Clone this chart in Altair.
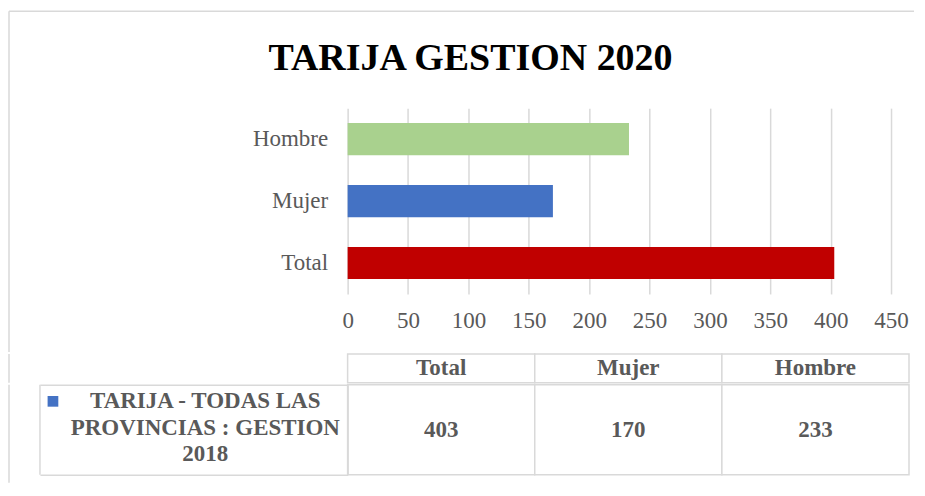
import altair as alt
import pandas as pd

# ---- data ----
TITLE = "TARIJA GESTION 2020"
CATEGORIES = ["Total", "Mujer", "Hombre"]
VALUES = [403, 170, 233]
BAR_COLORS = ["#C00000", "#4472C4", "#A9D18E"]
BAR_ORDER = ["Hombre", "Mujer", "Total"]
X_TICKS = [0, 50, 100, 150, 200, 250, 300, 350, 400, 450]
ROW_LABEL_LINES = ["TARIJA - TODAS LAS", "PROVINCIAS : GESTION", "2018"]
SERIES_COLOR = "#4472C4"

ROW_LABEL = "\n".join(ROW_LABEL_LINES)

df = pd.DataFrame({
    "cat": CATEGORIES,
    "value": VALUES,
    "row": [ROW_LABEL] * len(CATEGORIES),
    "hdr": ["header"] * len(CATEGORIES),
})
one = pd.DataFrame({"k": [0]})

FONT = "Liberation Serif"
GRAY = "#595959"
LINE = "#D9D9D9"
FRAME_X = -339  # chart-area frame, relative to the plot's left edge


def frame_rule():
    return alt.Chart(one).mark_rule(color=LINE, strokeWidth=1.5)


# ---- bar chart ----
bars = alt.Chart(df).mark_bar().encode(
    x=alt.X("value:Q",
            scale=alt.Scale(domain=[0, 450], nice=False, zero=True),
            axis=alt.Axis(values=X_TICKS, title=None, grid=True, gridColor=LINE, gridWidth=1.5,
                          ticks=False, domain=False, labelFont=FONT, labelFontSize=23,
                          labelColor=GRAY, labelPadding=16, labelFlush=False, minExtent=58)),
    y=alt.Y("cat:N", sort=BAR_ORDER,
            scale=alt.Scale(paddingInner=0.48, paddingOuter=0.24),
            axis=alt.Axis(title=None, ticks=False, domain=False, grid=False, labelFont=FONT,
                          labelFontSize=23, labelColor=GRAY, labelPadding=20)),
    color=alt.Color("cat:N", scale=alt.Scale(domain=CATEGORIES, range=BAR_COLORS), legend=None),
)
frame_top = frame_rule().encode(x=alt.value(FRAME_X), x2=alt.value(567), y=alt.value(-97))
frame_left_a = frame_rule().encode(x=alt.value(FRAME_X), y=alt.value(-97), y2=alt.value(244))
top_chart = alt.layer(bars, frame_top, frame_left_a).properties(width=544, height=186)

# ---- data table: header row ----
hdr_base = alt.Chart(df).encode(
    x=alt.X("cat:N", sort=CATEGORIES, scale=alt.Scale(paddingInner=0, paddingOuter=0), axis=None),
    y=alt.Y("hdr:N", scale=alt.Scale(paddingInner=0, paddingOuter=0), axis=None),
)
frame_left_c = frame_rule().encode(x=alt.value(FRAME_X), y=alt.value(0), y2=alt.value(29))
header = alt.layer(
    hdr_base.mark_rect(fill="white", stroke=LINE, strokeWidth=1.5),
    hdr_base.mark_text(font=FONT, fontSize=23, fontWeight="bold", color=GRAY).encode(text="cat:N"),
    frame_left_c,
).properties(width=562, height=29)

# ---- data table: value row ----
body_base = alt.Chart(df).encode(
    x=alt.X("cat:N", sort=CATEGORIES, scale=alt.Scale(paddingInner=0, paddingOuter=0), axis=None),
    y=alt.Y("row:N", scale=alt.Scale(paddingInner=0, paddingOuter=0),
            axis=alt.Axis(title=None, domain=True, domainColor=LINE, domainWidth=1.5,
                          ticks=True, tickBand="extent", tickSize=308, tickColor=LINE, tickWidth=1.5,
                          labelFont=FONT, labelFontSize=23, labelFontWeight="bold", labelColor=GRAY,
                          labelAlign="center", labelBaseline="top", labelOffset=-40,
                          labelPadding=-165, labelLineHeight=26.5,
                          labelLimit=0, labelExpr="split(datum.label, '\\n')")),
)
border = alt.Chart(one).mark_rule(color=LINE, strokeWidth=1.5).encode(
    x=alt.value(-308), y=alt.value(0), y2=alt.value(90))
frame_left_b = frame_rule().encode(x=alt.value(FRAME_X), y=alt.value(0), y2=alt.value(98))
key = alt.Chart(one).mark_point(shape="square", filled=True, size=115, color=SERIES_COLOR,
                                opacity=1).encode(x=alt.value(-295), y=alt.value(16.5))
body = alt.layer(
    body_base.mark_rect(fill="white", stroke=LINE, strokeWidth=1.5),
    body_base.mark_text(font=FONT, fontSize=23, fontWeight="bold", color=GRAY).encode(text="value:Q"),
    border,
    frame_left_b,
    key,
).properties(width=562, height=90)

chart = alt.vconcat(top_chart, header, body, spacing=0).properties(
    title=alt.Title(TITLE, font=FONT, fontSize=38, fontWeight="bold", color="black",
                    anchor="middle", offset=-68, dx=9),
    padding={"left": 0, "top": 2, "right": 2, "bottom": 0},
).configure_view(stroke=None)

chart.save("out.html", embed_options={"renderer": "svg", "actions": False})
